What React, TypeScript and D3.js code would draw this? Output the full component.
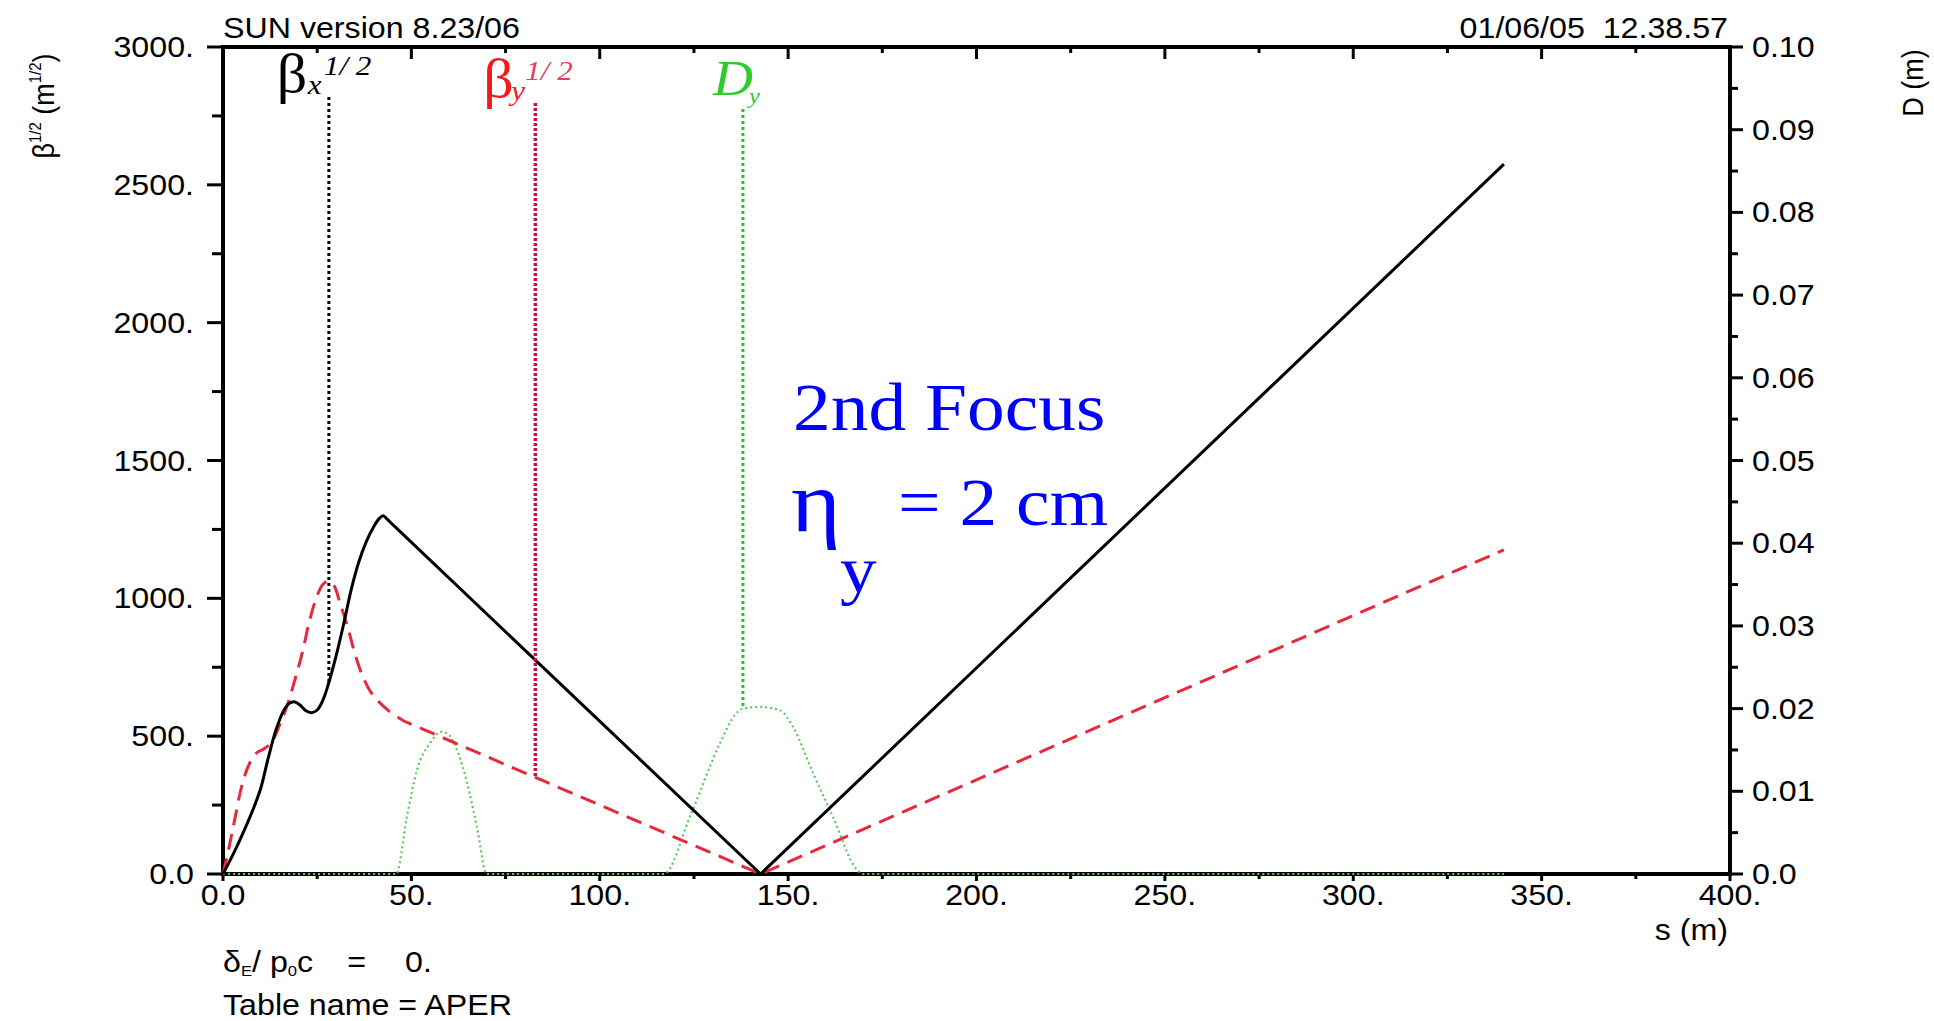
import React from 'react';
import * as d3 from 'd3';

const W = 1934;
const H = 1021;

// Optics along the line, s in metres
const sBetaX = [0, 3, 6, 8, 10, 12, 14, 16, 17.5, 19, 20.5, 22, 23.5, 25, 26.5, 28, 30, 32, 34, 36, 38, 40, 41.5, 42.5, 43.5, 45, 142.7, 340];
const betaX = [0, 80, 170, 235, 310, 420, 520, 590, 618, 625, 612, 592, 585, 595, 630, 690, 790, 905, 1030, 1130, 1205, 1260, 1290, 1300, 1288, 1268, 0, 2575];

const sBetaY = [0, 1.5, 3, 5, 7, 9, 11, 13, 15, 17, 19, 21, 23, 25, 26.5, 28, 29.5, 31, 33, 35, 37, 39, 41, 44, 48, 142.7, 340];
const betaY = [0, 90, 190, 320, 400, 440, 455, 480, 540, 610, 700, 800, 920, 1010, 1050, 1062, 1045, 985, 900, 800, 720, 665, 630, 592, 555, 0, 1176];

const sDy = [0, 46, 48.8, 51.5, 54.9, 58, 60, 62.1, 64.8, 67.4, 70, 117, 124, 131.9, 136, 138, 142.5, 147.8, 151.3, 156.6, 161.9, 168.3, 170, 340];
const dY = [0, 0, 0.0069, 0.0126, 0.0158, 0.0172, 0.0168, 0.015, 0.011, 0.0057, 0, 0, 0.007, 0.0158, 0.0193, 0.02, 0.0202, 0.0198, 0.0178, 0.0122, 0.0069, 0.0005, 0, 0];

// Where the curve labels sit
const markerS = [28.1, 82.9, 138.0];

const xTicks = [0, 50, 100, 150, 200, 250, 300, 350, 400];
const xTickLabels = ['0.0', '50.', '100.', '150.', '200.', '250.', '300.', '350.', '400.'];
const leftTicks = [0, 500, 1000, 1500, 2000, 2500, 3000];
const leftTickLabels = ['0.0', '500.', '1000.', '1500.', '2000.', '2500.', '3000.'];
const rightTicks = [0, 0.01, 0.02, 0.03, 0.04, 0.05, 0.06, 0.07, 0.08, 0.09, 0.1];
const rightTickLabels = ['0.0', '0.01', '0.02', '0.03', '0.04', '0.05', '0.06', '0.07', '0.08', '0.09', '0.10'];

const L = 223, R = 1730, TOP = 47, BOT = 874;
const SX = 1.11; // horizontal text stretch
const SANS = '"Liberation Sans", Arial, sans-serif';
const SERIF = '"Liberation Serif", "Times New Roman", serif';

const x = d3.scaleLinear().domain([0, 400]).range([L, R]);
const yL = d3.scaleLinear().domain([0, 3000]).range([BOT, TOP]);
const yR = d3.scaleLinear().domain([0, 0.1]).range([BOT, TOP]);

function T(props: any) {
  const { x: tx, y: ty, anchor = 'start', size = 29, family = SANS, fill = '#000', italic = false, children, style } = props;
  return (
    <text
      transform={`translate(${tx},${ty}) scale(${SX},1)`}
      textAnchor={anchor}
      fontSize={size}
      fontFamily={family}
      fontStyle={italic ? 'italic' : 'normal'}
      fill={fill}
      style={style}
    >
      {children}
    </text>
  );
}

function pts(s: number[], v: number[]) {
  return s.map((d, i) => [d, v[i]] as [number, number]);
}

function interp(s: number[], v: number[], at: number) {
  for (let i = 1; i < s.length; i++) {
    if (at <= s[i]) {
      const t = (at - s[i - 1]) / (s[i] - s[i - 1]);
      return v[i - 1] + t * (v[i] - v[i - 1]);
    }
  }
  return v[v.length - 1];
}

export default function App() {
  const lineL = d3.line<[number, number]>().x(d => x(d[0])).y(d => yL(d[1]));
  const curveL = d3.line<[number, number]>().x(d => x(d[0])).y(d => yL(d[1])).curve(d3.curveCatmullRom.alpha(0.5));
  const lineR = d3.line<[number, number]>().x(d => x(d[0])).y(d => yR(d[1])).curve(d3.curveMonotoneX);

  const bx = pts(sBetaX, betaX);
  const by = pts(sBetaY, betaY);
  const splitX = sBetaX.indexOf(45);
  const splitY = sBetaY.indexOf(48);
  const bxPath = curveL(bx.slice(0, splitX + 1))! + lineL(bx.slice(splitX))!.replace(/^M/, 'L');
  const byPath = curveL(by.slice(0, splitY + 1))! + lineL(by.slice(splitY))!.replace(/^M/, 'L');
  const dPath = lineR(pts(sDy, dY))!;

  const xMinor = d3.range(25, 400, 50);
  const leftMinor = d3.range(250, 3000, 500);
  const rightMinor = d3.range(0.005, 0.1, 0.01);

  const mX = interp(sBetaX, betaX, markerS[0]);
  const mY = interp(sBetaY, betaY, markerS[1]);
  const mD = interp(sDy, dY, markerS[2]);

  return (
    <svg width={W} height={H} style={{ position: 'absolute', left: 0, top: 0, background: '#fff' }}>
      <rect x={0} y={0} width={W} height={H} fill="#fff" />

      {/* header */}
      <T x={L} y={38}>SUN version 8.23/06</T>
      <T x={R - 2} y={38} anchor="end" style={{ whiteSpace: 'pre' }}>{'01/06/05  12.38.57'}</T>

      {/* axis titles */}
      <text transform={`translate(54,106) rotate(-90) scale(1,${SX})`} textAnchor="middle" fontSize={27} fontFamily={SANS}>
        β<tspan fontSize={15} dy={-12}>1/2</tspan>
        <tspan dy={12}> (m</tspan>
        <tspan fontSize={15} dy={-12}>1/2</tspan>
        <tspan dy={12}>)</tspan>
      </text>
      <text transform={`translate(1923,83) rotate(-90) scale(1,${SX})`} textAnchor="middle" fontSize={27} fontFamily={SANS}>
        D (m)
      </text>

      {/* ticks */}
      <g stroke="#000" strokeWidth={3}>
        {xTicks.map(t => (
          <g key={'xt' + t}>
            <line x1={x(t)} x2={x(t)} y1={TOP} y2={TOP + 12} />
            <line x1={x(t)} x2={x(t)} y1={BOT} y2={BOT + 7} />
          </g>
        ))}
        {xMinor.map(t => (
          <g key={'xm' + t}>
            <line x1={x(t)} x2={x(t)} y1={TOP} y2={TOP + 6} />
            <line x1={x(t)} x2={x(t)} y1={BOT} y2={BOT + 5} />
          </g>
        ))}
        {leftTicks.map(t => <line key={'lt' + t} x1={L - 16} x2={L} y1={yL(t)} y2={yL(t)} />)}
        {leftMinor.map(t => <line key={'lm' + t} x1={L - 11} x2={L} y1={yL(t)} y2={yL(t)} />)}
        {rightTicks.map(t => <line key={'rt' + t} x1={R} x2={R + 13} y1={yR(t)} y2={yR(t)} />)}
        {rightMinor.map(t => <line key={'rm' + t} x1={R} x2={R + 8} y1={yR(t)} y2={yR(t)} />)}
      </g>

      {/* frame */}
      <rect x={L} y={TOP} width={R - L} height={BOT - TOP} fill="none" stroke="#000" strokeWidth={4} />

      {/* tick labels */}
      {xTicks.map((t, i) => <T key={'xl' + t} x={x(t)} y={905} anchor="middle">{xTickLabels[i]}</T>)}
      {leftTicks.map((t, i) => <T key={'ll' + t} x={194} y={yL(t) + 10} anchor="end">{leftTickLabels[i]}</T>)}
      {rightTicks.map((t, i) => <T key={'rl' + t} x={1752} y={yR(t) + 10}>{rightTickLabels[i]}</T>)}
      <T x={1728} y={940} anchor="end">s (m)</T>

      {/* curves */}
      <path d={dPath} fill="none" stroke="#5cc85c" strokeWidth={2.2} strokeDasharray="2,3" />
      <path d={byPath} fill="none" stroke="#e62a3c" strokeWidth={3} strokeDasharray="16,9" />
      <path d={bxPath} fill="none" stroke="#000" strokeWidth={3} />

      {/* curve labels and markers */}
      <line x1={x(markerS[0])} x2={x(markerS[0])} y1={97} y2={yL(mX)} stroke="#000" strokeWidth={3} strokeDasharray="3,3" />
      <line x1={x(markerS[1])} x2={x(markerS[1])} y1={103} y2={yL(mY)} stroke="#c8103c" strokeWidth={3.5} strokeDasharray="3,2" />
      <line x1={x(markerS[2])} x2={x(markerS[2])} y1={109} y2={yR(mD)} stroke="#33bb33" strokeWidth={3} strokeDasharray="3,3" />

      <T x={x(markerS[0]) - 52} y={92} family={SERIF} size={54}>β</T>
      <T x={x(markerS[0]) - 21} y={94} family={SERIF} size={28} italic>x</T>
      <T x={x(markerS[0]) - 5} y={75} family={SERIF} size={28} italic style={{ whiteSpace: 'pre' }}>{'1/ 2'}</T>

      <T x={x(markerS[1]) - 52} y={97} family={SERIF} size={54} fill="#ee1c1c">β</T>
      <T x={x(markerS[1]) - 24} y={100} family={SERIF} size={28} italic fill="#ee1c1c">y</T>
      <T x={x(markerS[1]) - 10} y={80} family={SERIF} size={28} italic fill="#e8405a" style={{ whiteSpace: 'pre' }}>{'1/ 2'}</T>

      <T x={x(markerS[2]) - 30} y={95} family={SERIF} size={50} italic fill="#2ccc2c">D</T>
      <T x={x(markerS[2]) + 6} y={103} family={SERIF} size={22} italic fill="#2ccc2c">y</T>

      {/* annotation */}
      <T x={793} y={430} family={SERIF} size={68} fill="#0000ff">2nd Focus</T>
      <T x={791} y={531} family={SERIF} size={86} fill="#0000ff">η</T>
      <T x={840} y={592} family={SERIF} size={66} fill="#0000ff">y</T>
      <T x={898} y={525} family={SERIF} size={68} fill="#0000ff">= 2 cm</T>

      {/* footer */}
      <T x={L} y={972}>
        δ<tspan fontSize={15} dy={4}>E</tspan>
        <tspan dy={-4}>/ p</tspan>
        <tspan fontSize={15} dy={4}>0</tspan>
        <tspan dy={-4}>c</tspan>
        <tspan x={112}>=</tspan>
        <tspan x={164}>0.</tspan>
      </T>
      <T x={L} y={1015}>Table name = APER</T>
    </svg>
  );
}
